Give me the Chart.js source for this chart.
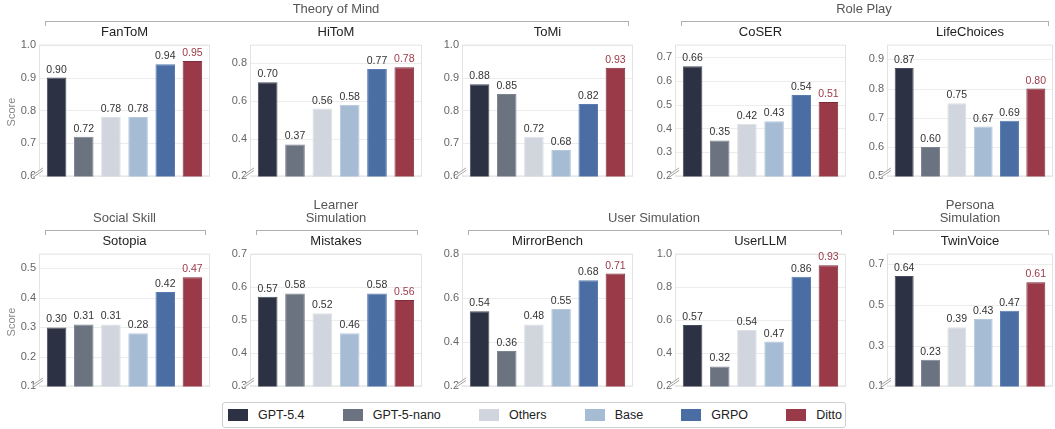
<!DOCTYPE html>
<html>
<head>
<meta charset="utf-8">
<script src="https://cdn.jsdelivr.net/npm/chart.js@4"></script>
<style>
  body { margin: 0; background: #fff; width: 1055px; height: 429px; position: relative; overflow: hidden;
         font-family: 'Liberation Sans', Arial, Helvetica, sans-serif; }
  canvas { position: absolute; }
  .grp { position: absolute; text-align: center; font-size: 13px; color: #555; line-height: 12.5px; white-space: nowrap; }
  .brk { position: absolute; height: 4px; border: 1.3px solid #b0b0b0; border-bottom: none; }
  .ttl { position: absolute; text-align: center; font-size: 13px; color: #222; line-height: 15px; }
  .score { position: absolute; width: 40px; text-align: center; font-size: 11px; line-height: 12px; color: #888; transform: rotate(-90deg); }
  .legend { position: absolute; left: 222px; top: 402px; width: 614px; height: 24px; border: 1px solid #cfcfcf; border-radius: 3px;
            display: flex; align-items: center; justify-content: space-between; padding: 0 3px 0 5px; box-sizing: content-box; }
  .legend span { display: flex; align-items: center; font-size: 12.5px; color: #222; }
  .legend i { display: inline-block; width: 20px; height: 12px; margin-right: 10px; }
</style>
</head>
<body>
<script>
// ---- data ----
const models = ['GPT-5.4', 'GPT-5-nano', 'Others', 'Base', 'GRPO', 'Ditto'];
const barColors = ['#2c3243', '#6b7280', '#d1d5dd', '#a6bcd4', '#4a6ea4', '#9a3a48'];

const fantomScores = [0.90, 0.72, 0.78, 0.78, 0.94, 0.95];
const hitomScores = [0.70, 0.37, 0.56, 0.58, 0.77, 0.78];
const tomiScores = [0.88, 0.85, 0.72, 0.68, 0.82, 0.93];
const coserScores = [0.66, 0.35, 0.42, 0.43, 0.54, 0.51];
const lifeChoicesScores = [0.87, 0.60, 0.75, 0.67, 0.69, 0.80];
const sotopiaScores = [0.30, 0.31, 0.31, 0.28, 0.42, 0.47];
const mistakesScores = [0.57, 0.58, 0.52, 0.46, 0.58, 0.56];
const mirrorBenchScores = [0.54, 0.36, 0.48, 0.55, 0.68, 0.71];
const userLLMScores = [0.57, 0.32, 0.54, 0.47, 0.86, 0.93];
const twinVoiceScores = [0.64, 0.23, 0.39, 0.43, 0.47, 0.61];

const fantomTicks = [0.6, 0.7, 0.8, 0.9, 1.0];
const hitomTicks = [0.2, 0.4, 0.6, 0.8];
const tomiTicks = [0.6, 0.7, 0.8, 0.9, 1.0];
const coserTicks = [0.2, 0.3, 0.4, 0.5, 0.6, 0.7];
const lifeChoicesTicks = [0.5, 0.6, 0.7, 0.8, 0.9];
const sotopiaTicks = [0.1, 0.2, 0.3, 0.4, 0.5];
const mistakesTicks = [0.3, 0.4, 0.5, 0.6, 0.7];
const mirrorBenchTicks = [0.2, 0.4, 0.6, 0.8];
const userLLMTicks = [0.2, 0.4, 0.6, 0.8, 1.0];
const twinVoiceTicks = [0.1, 0.3, 0.5, 0.7];

// panel: title, values, y range, ticks, grid cell (col,row)
const panels = [
  { title: 'FanToM', scores: fantomScores, min: 0.6, max: 1.0, ticks: fantomTicks, col: 0, row: 0 },
  { title: 'HiToM', scores: hitomScores, min: 0.2, max: 0.9, ticks: hitomTicks, col: 1, row: 0 },
  { title: 'ToMi', scores: tomiScores, min: 0.6, max: 1.0, ticks: tomiTicks, col: 2, row: 0 },
  { title: 'CoSER', scores: coserScores, min: 0.2, max: 0.75, ticks: coserTicks, col: 3, row: 0 },
  { title: 'LifeChoices', scores: lifeChoicesScores, min: 0.5, max: 0.95, ticks: lifeChoicesTicks, col: 4, row: 0 },
  { title: 'Sotopia', scores: sotopiaScores, min: 0.1, max: 0.55, ticks: sotopiaTicks, col: 0, row: 1 },
  { title: 'Mistakes', scores: mistakesScores, min: 0.3, max: 0.7, ticks: mistakesTicks, col: 1, row: 1 },
  { title: 'MirrorBench', scores: mirrorBenchScores, min: 0.2, max: 0.8, ticks: mirrorBenchTicks, col: 2, row: 1 },
  { title: 'UserLLM', scores: userLLMScores, min: 0.2, max: 1.0, ticks: userLLMTicks, col: 3, row: 1 },
  { title: 'TwinVoice', scores: twinVoiceScores, min: 0.1, max: 0.75, ticks: twinVoiceTicks, col: 4, row: 1 }
];

const groups = [
  { name: 'Theory of Mind', row: 0, from: 0, to: 2 },
  { name: 'Role Play', row: 0, from: 3, to: 4 },
  { name: 'Social Skill', row: 1, from: 0, to: 0 },
  { name: 'Learner<br>Simulation', row: 1, from: 1, to: 1 },
  { name: 'User Simulation', row: 1, from: 2, to: 3 },
  { name: 'Persona<br>Simulation', row: 1, from: 4, to: 4 }
];

// ---- layout (frame edges in page px) ----
const colX = [[39, 210], [250, 422], [462, 633], [675, 846], [887, 1053]];
const rowY = [[43, 182], [252, 392]];

Chart.defaults.font.family = "'Liberation Sans', Arial, Helvetica, sans-serif";

const framePlugin = {
  id: 'frame',
  beforeDatasetsDraw(chart) {
    const { ctx, chartArea: a, scales: { y } } = chart;
    const l = a.left - 4, r = a.right + 4;
    ctx.save();
    ctx.lineWidth = 1;
    ctx.strokeStyle = '#ececec';
    y.ticks.forEach(t => {
      const py = Math.round(y.getPixelForValue(t.value)) + 0.5;
      ctx.beginPath(); ctx.moveTo(l, py); ctx.lineTo(r, py); ctx.stroke();
    });
    ctx.strokeStyle = '#e3e3e3';
    ctx.strokeRect(l + 0.5, a.top + 0.5, r - l - 1, a.bottom - a.top - 1);
    ctx.restore();
  },
  afterDatasetsDraw(chart) {
    const { ctx, chartArea: a } = chart;
    const meta = chart.getDatasetMeta(0);
    const vals = chart.data.datasets[0].data;
    ctx.save();
    ctx.font = "10.5px 'Liberation Sans', Arial, sans-serif";
    ctx.textAlign = 'center';
    ctx.textBaseline = 'alphabetic';
    meta.data.forEach((bar, i) => {
      ctx.fillStyle = i === 5 ? '#9a3a48' : '#333';
      ctx.fillText(vals[i].toFixed(2), bar.x, bar.y - 5);
    });
    // axis break marks at bottom-left
    const x0 = a.left - 4, y0 = a.bottom;
    ctx.strokeStyle = '#fff'; ctx.lineWidth = 4;
    ctx.beginPath(); ctx.moveTo(x0 - 5, y0); ctx.lineTo(x0 + 3, y0 - 6); ctx.stroke();
    ctx.strokeStyle = '#999'; ctx.lineWidth = 0.9;
    [0, -2.5].forEach(d => {
      ctx.beginPath(); ctx.moveTo(x0 - 6, y0 + 1 + d); ctx.lineTo(x0 + 4, y0 - 6 + d); ctx.stroke();
    });
    ctx.restore();
  }
};

panels.forEach(p => {
  const [fl, fr] = colX[p.col];
  const [ft, fb] = rowY[p.row];
  const cv = document.createElement('canvas');
  cv.width = fr + 2 - (fl - 40);
  cv.height = fb - ft + 20;
  cv.style.left = (fl - 40) + 'px';
  cv.style.top = (ft - 12) + 'px';
  document.body.appendChild(cv);

  const t = document.createElement('div');
  t.className = 'ttl';
  t.textContent = p.title;
  t.style.left = fl + 'px';
  t.style.width = (fr - fl) + 'px';
  t.style.top = (ft - 19) + 'px';
  document.body.appendChild(t);

  new Chart(cv, {
    type: 'bar',
    data: {
      labels: models,
      datasets: [{
        data: p.scores,
        backgroundColor: barColors,
        borderColor: ['#474d5c', '#7e8592', '#dde0e6', '#b6c8dc', '#5a7cb0', '#7e2c38'],
        borderWidth: 1,
        barPercentage: 0.72,
        categoryPercentage: 1
      }]
    },
    options: {
      responsive: false, animation: false, devicePixelRatio: 1,
      layout: { padding: { left: 0, right: 6, top: 12, bottom: 8 } },
      plugins: { legend: { display: false }, tooltip: { enabled: false } },
      scales: {
        x: { display: false },
        y: {
          min: p.min, max: p.max,
          grid: { display: false, drawTicks: false },
          border: { display: false },
          afterBuildTicks: s => { s.ticks = p.ticks.map(v => ({ value: v })); },
          afterFit: s => { s.width = 44; },
          ticks: { padding: 7, color: '#666', font: { size: 11 }, callback: v => Number(v).toFixed(1) }
        }
      }
    },
    plugins: [framePlugin]
  });
});

// group headers with brackets
groups.forEach(g => {
  const l = colX[g.from][0] + 6, r = colX[g.to][1] - 6;
  const by = g.row === 0 ? 21 : 230;
  const b = document.createElement('div');
  b.className = 'brk';
  b.style.left = l + 'px';
  b.style.top = by + 'px';
  b.style.width = (r - l) + 'px';
  document.body.appendChild(b);
  const d = document.createElement('div');
  d.className = 'grp';
  d.innerHTML = g.name;
  d.style.left = l + 'px';
  d.style.width = (r - l) + 'px';
  const lines = g.name.split('<br>').length;
  d.style.top = (by - 6 - lines * 12.5) + 'px';
  document.body.appendChild(d);
});

// y-axis title for the first column
[112, 322].forEach(cy => {
  const s = document.createElement('div');
  s.className = 'score';
  s.textContent = 'Score';
  s.style.left = (11 - 20) + 'px';
  s.style.top = (cy - 6) + 'px';
  document.body.appendChild(s);
});

// legend
const leg = document.createElement('div');
leg.className = 'legend';
models.forEach((m, i) => {
  const it = document.createElement('span');
  it.innerHTML = '<i style="background:' + barColors[i] + '"></i>' + m;
  leg.appendChild(it);
});
document.body.appendChild(leg);
</script>
</body>
</html>
